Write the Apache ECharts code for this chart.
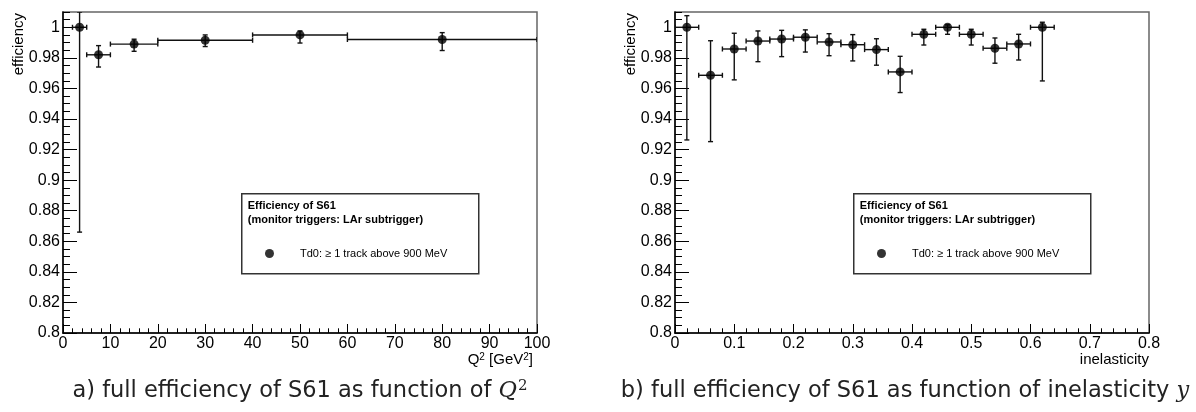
<!DOCTYPE html>
<html>
<head>
<meta charset="utf-8">
<title>S61 efficiency</title>
<script src="https://cdn.jsdelivr.net/npm/echarts@6/dist/echarts.min.js"></script>
<style>
  html, body { margin: 0; padding: 0; background: #fff; }
  #chart { width: 1196px; height: 412px; }
</style>
</head>
<body>
<div id="chart"></div>
<script>
// ---- Efficiency vs Q^2 (bins in GeV^2) ----
const q2Center = [3.5, 7.5, 15, 30, 50, 80];
const q2BinLow = [2, 5, 10, 20, 40, 60];
const q2BinHigh = [5, 10, 20, 40, 60, 100];
const q2Eff = [1.0, 0.982, 0.989, 0.9915, 0.995, 0.992];
const q2EffLow = [0.866, 0.974, 0.9843, 0.9874, 0.9897, 0.9848];
const q2EffHigh = [1.01, 0.988, 0.9922, 0.995, 0.9976, 0.9965];

// ---- Efficiency vs inelasticity y ----
const yCenter = [0.02, 0.06, 0.10, 0.14, 0.18, 0.22, 0.26, 0.30, 0.34, 0.38, 0.42, 0.46, 0.50, 0.54, 0.58, 0.62];
const yBinHalf = 0.02;
const yEff = [1.0, 0.9686, 0.9858, 0.991, 0.9923, 0.9935, 0.9904, 0.9886, 0.9854, 0.9708, 0.9954, 1.0, 0.9954, 0.9863, 0.9891, 1.0];
const yEffLow = [0.9263, 0.9252, 0.9656, 0.9775, 0.9808, 0.9838, 0.9814, 0.978, 0.9752, 0.9573, 0.9884, 0.9954, 0.9884, 0.9765, 0.9786, 0.9649];
const yEffHigh = [1.0076, 0.9912, 0.9961, 0.9976, 0.998, 0.9983, 0.9958, 0.9952, 0.9925, 0.981, 0.9987, 1.0016, 0.9987, 0.993, 0.9954, 1.0033];

// ---- Axis ticks ----
const effMajorTicks = [0.8, 0.82, 0.84, 0.86, 0.88, 0.9, 0.92, 0.94, 0.96, 0.98, 1.0];
const effMin = 0.8, effMax = 1.01;
const effMinorStep = 0.005;
const q2Ticks = { min: 0, max: 100, step: 10 };
const inelTicks = { min: 0, max: 0.8, step: 0.1 };

const legendTitle = ['Efficiency of S61', '(monitor triggers: LAr subtrigger)'];
const seriesName = 'Td0: \u2265 1 track above 900 MeV';

// minor tick positions between the labelled ones
const effMinorTicks = [];
for (let i = 0; ; i++) {
  const v = +(effMin + i * effMinorStep).toFixed(4);
  if (v > effMax + 1e-9) break;
  if (!effMajorTicks.some(m => Math.abs(m - v) < 1e-6)) effMinorTicks.push(v);
}

const q2Rows = q2Center.map((c, i) => [c, q2Eff[i], q2BinLow[i], q2BinHigh[i], q2EffLow[i], q2EffHigh[i]]);
const yRows = yCenter.map((c, i) => [c, yEff[i], c - yBinHalf, c + yBinHalf, yEffLow[i], yEffHigh[i]]);

const FONT = '"Liberation Sans", Arial, sans-serif';
const INK = '#000';
const TICK_FONT = 16;

function errorBars(params, api) {
  const xc = api.value(0), y = api.value(1);
  const pL = api.coord([api.value(2), y]);
  const pR = api.coord([api.value(3), y]);
  const pB = api.coord([xc, api.value(4)]);
  const pT = api.coord([xc, api.value(5)]);
  const cap = 2.5;
  const st = { stroke: '#111', lineWidth: 1.4 };
  const seg = (x1, y1, x2, y2) => ({ type: 'line', shape: { x1, y1, x2, y2 }, style: st });
  return {
    type: 'group',
    children: [
      seg(pL[0], pL[1], pR[0], pR[1]),
      seg(pB[0], pB[1], pT[0], pT[1]),
      seg(pL[0], pL[1] - cap, pL[0], pL[1] + cap),
      seg(pR[0], pR[1] - cap, pR[0], pR[1] + cap),
      seg(pB[0] - cap, pB[1], pB[0] + cap, pB[1]),
      seg(pT[0] - cap, pT[1], pT[0] + cap, pT[1])
    ]
  };
}

function xAxisCfg(grid, t, fmt) {
  return {
    gridIndex: grid, type: 'value', min: t.min, max: t.max, interval: t.step,
    axisLine: { show: true, onZero: false, lineStyle: { color: INK, width: 1.5 } },
    axisTick: { show: true, inside: true, length: 9, lineStyle: { color: INK, width: 1 } },
    minorTick: { show: true, splitNumber: 5, length: 4.7, lineStyle: { color: INK, width: 1 } },
    splitLine: { show: false },
    axisLabel: { fontSize: TICK_FONT, color: INK, fontFamily: FONT, margin: 3, formatter: fmt }
  };
}

function yAxesCfg(grid) {
  return [
    {
      gridIndex: grid, type: 'value', position: 'left', min: effMin, max: effMax,
      axisLine: { show: true, onZero: false, lineStyle: { color: INK, width: 1.5 } },
      axisTick: { show: true, inside: true, length: 14, customValues: effMajorTicks, lineStyle: { color: INK, width: 1 } },
      splitLine: { show: false },
      axisLabel: {
        fontSize: TICK_FONT, color: INK, fontFamily: FONT, margin: 3, customValues: effMajorTicks,
        formatter: v => String(+v.toFixed(2))
      }
    },
    {
      gridIndex: grid, type: 'value', position: 'left', min: effMin, max: effMax,
      axisLine: { show: false },
      axisTick: { show: true, inside: true, length: 7, customValues: effMinorTicks, lineStyle: { color: INK, width: 1 } },
      splitLine: { show: false },
      axisLabel: { show: false }
    }
  ];
}

const gridBox = { top: 12, width: 474, height: 321, show: true, borderColor: '#666', borderWidth: 1.5, backgroundColor: 'transparent' };

function legendBox(x0) {
  return {
    type: 'group', left: x0, top: 193, z: 1,
    children: [
      { type: 'rect', shape: { x: 0, y: 0, width: 237, height: 80 }, style: { fill: '#fff', stroke: '#333', lineWidth: 1.5 } },
      { type: 'text', x: 6, y: 12, style: { text: legendTitle[0], font: 'bold 11px ' + FONT, fill: INK, verticalAlign: 'middle' } },
      { type: 'text', x: 6, y: 26, style: { text: legendTitle[1], font: 'bold 11px ' + FONT, fill: INK, verticalAlign: 'middle' } }
    ]
  };
}

function axisTitle(x, y, text, rot) {
  return { type: 'text', x, y, rotation: rot || 0, style: { text, font: '15px ' + FONT, fill: INK, align: 'right', verticalAlign: 'middle' } };
}

const captionRich = {
  t: { fontFamily: '"DejaVu Sans", sans-serif', fontSize: 22.5, fill: '#222' },
  m: { fontFamily: '"DejaVu Serif", serif', fontStyle: 'italic', fontSize: 22.5, fill: '#222' },
  s: { fontFamily: '"DejaVu Serif", serif', fontSize: 15, fill: '#222', verticalAlign: 'top', padding: [0, 0, 10, 1] }
};

const chart = echarts.init(document.getElementById('chart'), null, { renderer: 'canvas' });
chart.setOption({
  animation: false,
  backgroundColor: '#fff',
  grid: [Object.assign({ left: 63 }, gridBox), Object.assign({ left: 675 }, gridBox)],
  xAxis: [xAxisCfg(0, q2Ticks, v => String(v)), xAxisCfg(1, inelTicks, v => String(+v.toFixed(1)))],
  yAxis: yAxesCfg(0).concat(yAxesCfg(1)),
  legend: [
    { left: 260, top: 243, data: [seriesName], icon: 'circle', itemWidth: 9, itemHeight: 9, selectedMode: false,
      textStyle: { fontSize: 11, fontFamily: FONT, color: INK, padding: [0, 0, 0, 21] } },
    { left: 872, top: 243, data: [seriesName], icon: 'circle', itemWidth: 9, itemHeight: 9, selectedMode: false,
      textStyle: { fontSize: 11, fontFamily: FONT, color: INK, padding: [0, 0, 0, 21] } }
  ],
  graphic: [
    legendBox(241),
    legendBox(853),
    axisTitle(19, 13, 'efficiency', Math.PI / 2),
    axisTitle(631, 13, 'efficiency', Math.PI / 2),
    { type: 'text', x: 533, y: 360, style: {
        text: 'Q{s|2} [GeV{s|2}]', align: 'right', verticalAlign: 'middle', font: '15px ' + FONT, fill: INK,
        rich: { s: { fontSize: 10, fontFamily: FONT, verticalAlign: 'top', padding: [0, 0, 6, 0] } } } },
    axisTitle(1149, 360, 'inelasticity', 0),
    { type: 'text', x: 300, y: 391, style: {
        text: '{t|a) full efficiency of S61 as function of }{m|Q}{s|2}', align: 'center', verticalAlign: 'middle', rich: captionRich } },
    { type: 'text', x: 905, y: 391, style: {
        text: '{t|b) full efficiency of S61 as function of inelasticity }{m|y}', align: 'center', verticalAlign: 'middle', rich: captionRich } }
  ],
  series: [
    { type: 'custom', name: 'q2 errors', xAxisIndex: 0, yAxisIndex: 0, clip: true, renderItem: errorBars, data: q2Rows, z: 3 },
    { type: 'scatter', name: seriesName, xAxisIndex: 0, yAxisIndex: 0, symbol: 'circle', symbolSize: 9,
      itemStyle: { color: INK }, data: q2Center.map((c, i) => [c, q2Eff[i]]), z: 4 },
    { type: 'custom', name: 'y errors', xAxisIndex: 1, yAxisIndex: 2, clip: true, renderItem: errorBars, data: yRows, z: 3 },
    { type: 'scatter', name: seriesName, xAxisIndex: 1, yAxisIndex: 2, symbol: 'circle', symbolSize: 9,
      itemStyle: { color: INK }, data: yCenter.map((c, i) => [c, yEff[i]]), z: 4 }
  ]
});
</script>
</body>
</html>
